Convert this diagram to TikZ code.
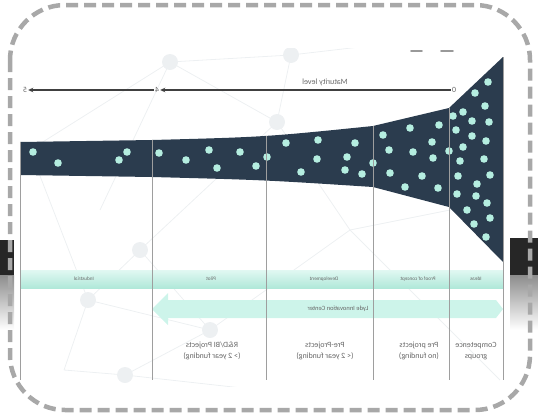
\documentclass[tikz,border=0pt]{standalone}
\usepackage{fontspec}
\usepackage{graphicx}
\newfontfamily\labelfont{Carlito}
\usetikzlibrary{arrows.meta}
\definecolor{funnel}{HTML}{2B3C4E}
\definecolor{bead}{HTML}{B5EEE0}
\definecolor{mint}{HTML}{CDF4EA}
\definecolor{mintdark}{HTML}{B0E8D9}
\definecolor{frame}{HTML}{A8A8A8}
\definecolor{web}{HTML}{EDF0F2}
\newcommand\mirrored[1]{\reflectbox{\begin{tabular}{@{}c@{}}#1\end{tabular}}}

\begin{document}
\begin{tikzpicture}[x=1pt, y=-1pt,
  every node/.style = {font=\labelfont\fontsize{8}{11}\selectfont, text=black!60, inner sep=1pt},
  phase/.style = {font=\labelfont\fontsize{5.2}{6}\selectfont},
  bubble/.style = {fill=bead},
  column/.style = {draw=black!38, line width=0.6pt},
  level/.style = {draw=black!75, line width=1.3pt, -{Stealth[length=5pt,width=4.5pt]}},
  web/.style = {draw=web, line width=0.8pt}]
  \useasboundingbox (0,0) rectangle (538,418);

  \begin{scope}
    \clip (15,48) rectangle (512,386);
    \foreach \ax/\ay/\bx/\by in {170/62/30/150, 170/62/100/210, 170/62/291/55, 170/62/277/122,
                       291/55/277/122, 277/122/140/250, 277/122/350/230, 140/250/88/300,
                       88/300/64/370, 88/300/210/330, 140/250/210/330, 210/330/125/375,
                       125/375/64/370, 350/230/420/300, 210/330/350/230, 30/150/88/300,
                       291/55/420/40, 350/230/500/200, 420/300/500/380, 125/375/260/390}
      \draw[web] (\ax,\ay) -- (\bx,\by);
    \foreach \x/\y in {170/62, 291/55, 277/122, 140/250, 88/300, 125/375, 210/330}
      \fill[fill=web] (\x,\y) circle[radius=8];
  \end{scope}

  \fill[funnel] (20,142) -- (152,140) .. controls (265,137) .. (373,126) -- (449,108) -- (503,57)
    -- (503,262) -- (449,207) -- (373,187) .. controls (265,180) .. (152,177) -- (20,175) -- cycle;
  \foreach \x/\y in {33/152, 58/163, 127/152, 119/160,
                     159/153, 186/160, 209/150, 217/168, 240/152, 256/166, 267/157,
                     286/143, 318/140, 355/143, 317/159, 347/157, 301/172, 345/170, 362/174, 373/163,
                     383/135, 410/128, 439/125, 432/142, 389/150, 413/152, 433/158, 449/151,
                     390/173, 422/176, 405/187, 438/188,
                     488/82, 475/93, 485/106, 463/112, 453/116, 472/121, 489/122, 456/130,
                     472/136, 486/141, 463/147, 460/161, 484/159, 458/176, 490/175, 477/184,
                     457/194, 476/196, 487/203, 467/210, 490/218, 474/224, 486/237}
    \fill[bubble] (\x,\y) circle[radius=3.8];

  \shade[top color=mint!60!white, bottom color=mintdark] (20,270) rectangle (503,288);
  \fill[mint] (496,300) -- (503,309) -- (496,318) -- (168,318) -- (168,325) -- (152,309)
    -- (168,293) -- (168,300) -- cycle;

  \foreach \x/\y in {20/142, 152/140, 266/136, 373/126, 449/108, 503/57}
    \draw[column] (\x,\y) -- (\x,380);

  \node (m5) at (25,90) {\mirrored{5}};
  \node (m4) at (157,90) {\mirrored{4}};
  \node (m0) at (454,90) {\mirrored{0}};
  \draw[level] (m0) -- (m4);
  \draw[level] (m4) -- (m5);
  \node (maturity) at (325,82) {\mirrored{Maturity level}};

  \node[phase] (industrial) at (84,279) {\mirrored{Industrial}};
  \node[phase] (pilot) at (211,279) {\mirrored{Pilot}};
  \node[phase] (development) at (324,279) {\mirrored{Development}};
  \node[phase] (poc) at (418,279) {\mirrored{Proof of concept}};
  \node[phase, font=\labelfont\fontsize{6.5}{7}\selectfont] (lyde) at (338,309) {\mirrored{Lyde Innovation Center}};
  \node[phase] (ideas) at (476,279) {\mirrored{Ideas}};

  \node (rdbi) at (212,351) {\mirrored{R\&D/BI Projects\\(> 2 year funding)}};
  \node (preproj) at (325,351) {\mirrored{Pre-Projects\\(< 2 year funding)}};
  \node (prenofund) at (419,351) {\mirrored{Pre projects\\(no funding)}};
  \node (competence) at (476,351) {\mirrored{Competence\\groups}};

  \draw[black!40, line width=1.6pt, line cap=round] (411,51) -- (422,51) (441,51) -- (453,51);

  \fill[black!85] (0,240) rectangle (14,275);
  \shade[top color=black!45, bottom color=white] (0,275) rectangle (14,330);
  \fill[black!85] (510,238) rectangle (538,275);
  \shade[top color=black!45, bottom color=white] (510,275) rectangle (538,330);

  \draw[frame, line width=4.5pt, dash pattern=on 12pt off 6pt, rounded corners=55] (10,5) rectangle (530,410);
\end{tikzpicture}
\end{document}
